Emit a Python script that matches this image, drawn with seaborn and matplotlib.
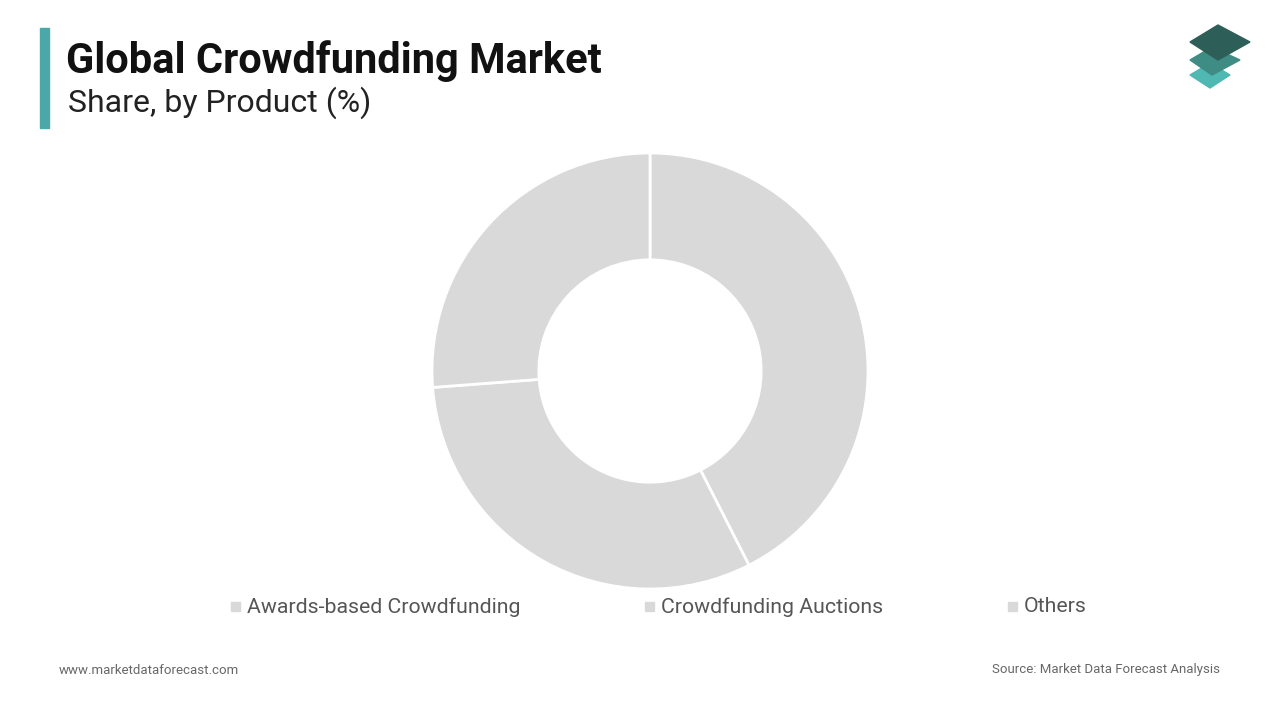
import matplotlib
matplotlib.use("Agg")
import matplotlib.pyplot as plt
import seaborn as sns
from matplotlib.patches import Rectangle, Polygon

sns.set_theme(style="white")
categories = ["Awards-based Crowdfunding", "Crowdfunding Auctions", "Others"]
shares = [42.5, 31.3, 26.2]
colors = ["#d9d9d9", "#d9d9d9", "#d9d9d9"]

fig = plt.figure(figsize=(12.8, 7.2), dpi=100)
fig.patch.set_facecolor("white")
ax = fig.add_axes([0, 0, 1, 1])
ax.set_xlim(0, 1280); ax.set_ylim(720, 0); ax.axis("off")

ax.add_patch(Rectangle((40, 28), 9, 100, color="#4aa9a8"))
ax.text(66, 61, "Global Crowdfunding Market", fontsize=30, fontweight="bold", family="Roboto", va="center", color="#111")
ax.text(68, 103, "Share, by Product (%)", fontsize=23, family="Roboto", va="center", color="#222")
ax.text(59, 670, "www.marketdataforecast.com", fontsize=9.5, family="Roboto", va="center", color="#666")
ax.text(1220, 670, "Source: Market Data Forecast Analysis", fontsize=9.5, family="Roboto", va="center", ha="right", color="#666")

# logo
ax.add_patch(Polygon([(1190, 75), (1210, 63), (1230, 75), (1210, 88)], color="#4fb8b3"))
ax.add_patch(Polygon([(1190, 60), (1212, 47), (1240, 60), (1212, 75)], color="#3f8c84"))
ax.add_patch(Polygon([(1190, 42), (1218, 25), (1250, 42), (1218, 60)], color="#2d5f58"))

pax = fig.add_axes([(650 - 218) / 1280, 1 - (371 + 218) / 720, 436 / 1280, 436 / 720])
pax.pie(shares, colors=colors, startangle=90, counterclock=False,
        wedgeprops=dict(width=0.49, edgecolor="white", linewidth=2))
pax.set_xlim(-1, 1); pax.set_ylim(-1, 1)
pax.set_aspect("equal"); pax.axis("off")

legend_x = [231, 645, 1008]
for x, lab, c in zip(legend_x, categories, colors):
    ax.add_patch(Rectangle((x, 602), 9, 9, color=c))
    ax.text(x + 16, 607, lab, fontsize=15.3, family="Roboto", va="center", color="#555")

fig.savefig("out.png", dpi=100)
